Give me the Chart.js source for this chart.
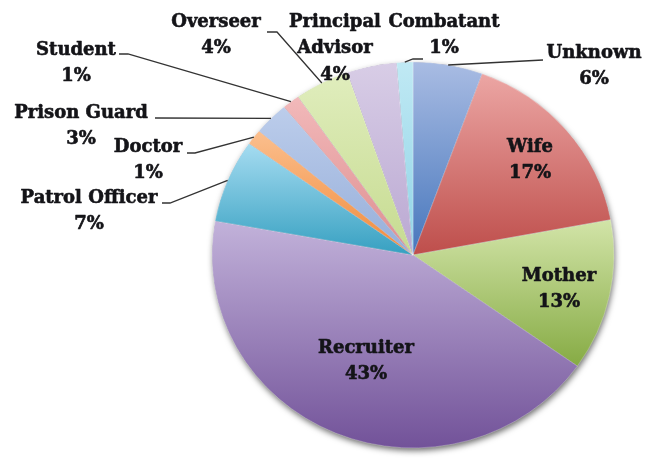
<!DOCTYPE html>
<html><head><meta charset="utf-8">
<script src="https://cdn.jsdelivr.net/npm/chart.js@4"></script>
<style>html,body{margin:0;padding:0;background:#fff;}</style>
</head><body>
<canvas id="c" width="657" height="459"></canvas>
<script>
// ---- data ----
const categories = ['Unknown','Wife','Mother','Recruiter','Patrol Officer','Doctor','Prison Guard','Student','Overseer','Principal Advisor','Combatant'];
const shares = [5.6, 16.5, 12.7, 43.1, 7.0, 1.3, 2.8, 1.4, 4.4, 4.0, 1.3];
const percentLabels = ['6%','17%','13%','43%','7%','1%','3%','1%','4%','4%','1%'];
const nameLines = [['Unknown'],['Wife'],['Mother'],['Recruiter'],['Patrol Officer'],['Doctor'],['Prison Guard'],['Student'],['Overseer'],['Principal','Advisor'],['Combatant']];

// ---- style ----
const topColors    = ['#a9bce3','#eca6a4','#d2e4a8','#c2b2da','#a6dcf1','#fbbf8e','#bccdeb','#f2b9ba','#e0edbd','#d8cde6','#c0e9f4'];
const bottomColors = ['#4676bc','#be4e4b','#86ab44','#725299','#36a0c1','#f08a3a','#96aed9','#dd8e90','#c6db90','#baa8d2','#8fd3e6'];
const SY = 0.96; // vertical squash of the pie
const labelLayout = [
  {x:594, y:53,  pts:[[543,60]]},
  {x:530, y:147},
  {x:559, y:276},
  {x:366, y:348},
  {x:89,  y:198, pts:[[170,203],[162,203]]},
  {x:148, y:147, pts:[[195,153],[187,153]]},
  {x:81,  y:113, pts:[[155,118]]},
  {x:76,  y:50,  pts:[[128,54],[119,54]]},
  {x:216, y:22,  pts:[[277,32],[267,32]]},
  {x:335, y:22},
  {x:444, y:22,  pts:[[413,59],[423,59]]}
];
const LINE_H = 26.5;

const decor = {
  id: 'decor',
  beforeDatasetsDraw(chart) {
    const ctx = chart.ctx;
    const meta = chart.getDatasetMeta(0);
    const a0 = meta.data[0];
    const cx = a0.x, cy = a0.y, R = a0.outerRadius;
    ctx.save();
    ctx.translate(cx, cy); ctx.scale(1, SY); ctx.translate(-cx, -cy);
    // soft outer shadow
    ctx.save();
    ctx.shadowColor = 'rgba(0,0,0,0.6)';
    ctx.shadowBlur = 6; ctx.shadowOffsetX = 1; ctx.shadowOffsetY = 3;
    ctx.beginPath(); ctx.arc(cx, cy, R - 0.5, 0, Math.PI * 2);
    ctx.fillStyle = '#3a2a55'; ctx.fill();
    ctx.restore();
    meta.data.forEach((el, i) => {
      let minY = cy, maxY = cy;
      const n = 40;
      for (let k = 0; k <= n; k++) {
        const a = el.startAngle + (el.endAngle - el.startAngle) * k / n;
        const y = cy + R * Math.sin(a);
        minY = Math.min(minY, y); maxY = Math.max(maxY, y);
      }
      if (maxY - minY < 1) maxY = minY + 1;
      const g = ctx.createLinearGradient(0, minY, 0, maxY);
      g.addColorStop(0, topColors[i]);
      g.addColorStop(1, bottomColors[i]);
      el.options.backgroundColor = g;
    });
  },
  afterDatasetsDraw(chart) {
    const ctx = chart.ctx;
    ctx.restore();
    const meta = chart.getDatasetMeta(0);
    // leader lines
    ctx.save();
    ctx.strokeStyle = '#333333';
    ctx.lineWidth = 1.3;
    meta.data.forEach((el, i) => {
      const L = labelLayout[i];
      if (!L.pts) return;
      const mid = (el.startAngle + el.endAngle) / 2;
      const ex = el.x + el.outerRadius * Math.cos(mid);
      const ey = el.y + el.outerRadius * SY * Math.sin(mid);
      ctx.beginPath();
      ctx.moveTo(ex, ey);
      L.pts.forEach(p => ctx.lineTo(p[0], p[1]));
      ctx.stroke();
    });
    // labels
    ctx.fillStyle = '#141418';
    ctx.strokeStyle = '#141418';
    ctx.lineWidth = 0.6;
    ctx.lineJoin = 'round';
    ctx.font = 'bold 18px "DejaVu Serif"';
    ctx.textAlign = 'center';
    ctx.textBaseline = 'middle';
    categories.forEach((c, i) => {
      const L = labelLayout[i];
      const lines = nameLines[i].concat([percentLabels[i]]);
      lines.forEach((t, j) => {
        ctx.fillText(t, L.x, L.y + j * LINE_H);
        ctx.strokeText(t, L.x, L.y + j * LINE_H);
      });
    });
    ctx.restore();
  }
};

new Chart(document.getElementById('c'), {
  type: 'pie',
  data: {
    labels: categories,
    datasets: [{
      data: shares,
      backgroundColor: bottomColors,
      borderWidth: 0.6,
      borderColor: 'rgba(255,255,255,0.45)',
      radius: 201,
      clip: false
    }]
  },
  options: {
    responsive: false,
    animation: false,
    layout: { padding: { left: 212, right: 43, top: 54, bottom: 3 } },
    plugins: { legend: { display: false }, tooltip: { enabled: false } }
  },
  plugins: [decor]
});
</script>
</body></html>
